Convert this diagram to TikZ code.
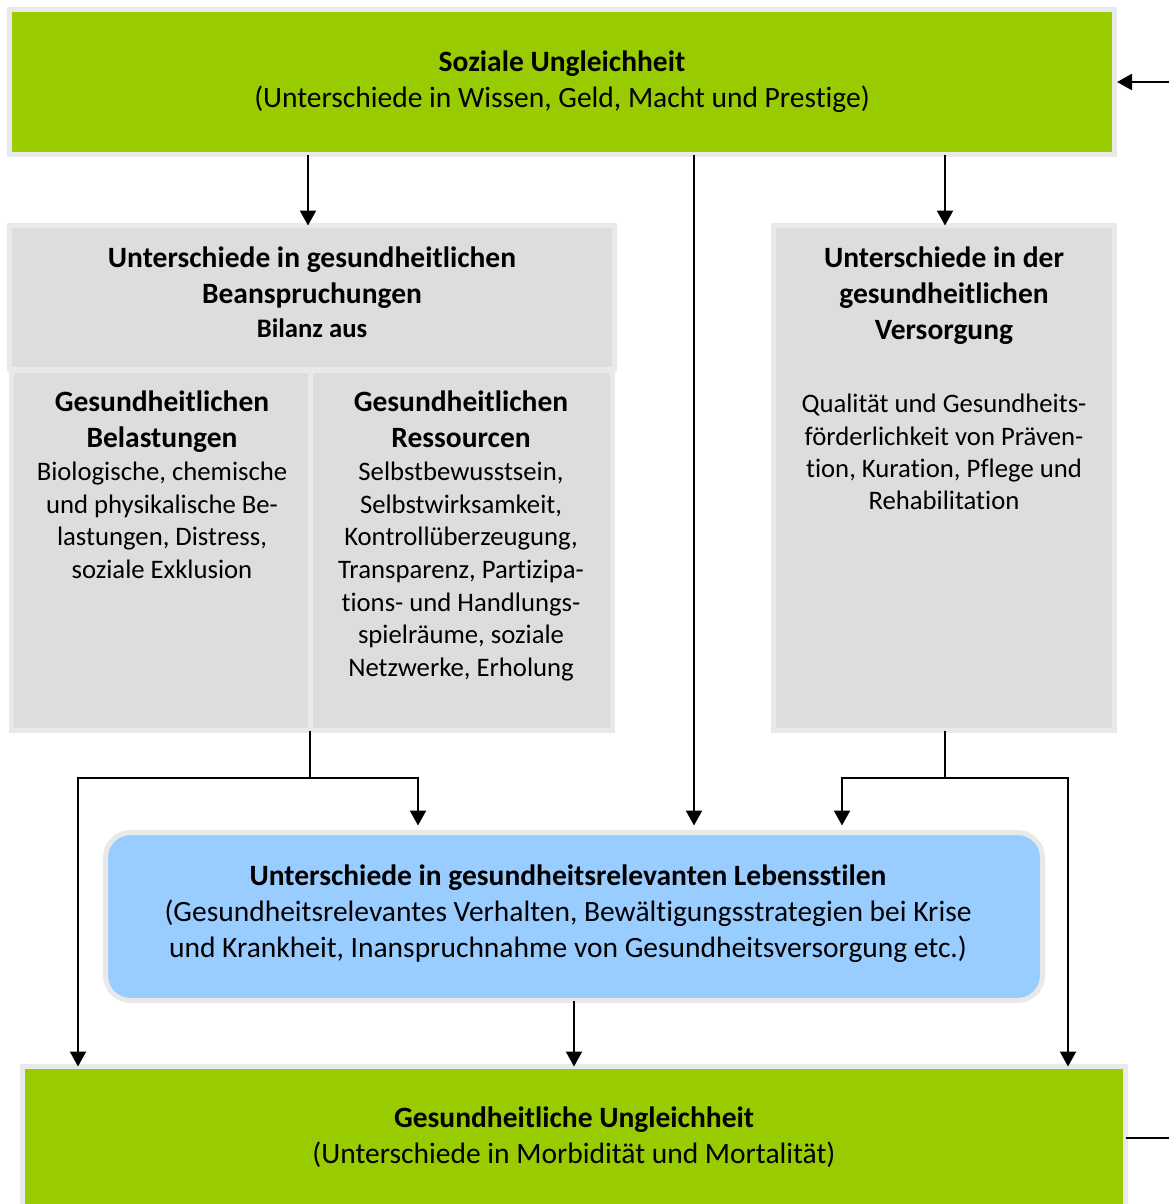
\documentclass[tikz,border=0pt]{standalone}
\usepackage{fontspec}
\setmainfont{Carlito}[Ligatures=NoCommon]
\usetikzlibrary{arrows.meta}
\definecolor{lgreen}{RGB}{153,204,0}
\definecolor{boxgray}{RGB}{221,221,221}
\definecolor{rimgray}{RGB}{233,233,233}
\definecolor{lblue}{RGB}{153,204,255}
\newcommand\fsz[2]{\fontsize{#1}{#2}\selectfont}
\begin{document}
\begin{tikzpicture}[x=1pt,y=-1pt,
  box/.style={draw=rimgray, line width=5pt, inner sep=0pt, outer sep=0pt},
  greenbox/.style={box, fill=lgreen},
  graybox/.style={box, fill=boxgray},
  bluebox/.style={box, fill=lblue, rounded corners=25pt},
  bigtxt/.style={align=center, inner sep=0pt, anchor=north, font=\fsz{29.5}{36}},
  smalltxt/.style={align=center, inner sep=0pt, anchor=north, font=\fsz{26.7}{32.6}},
  arr/.style={line width=2.2pt, line join=miter, -{Triangle[width=16pt,length=15pt]}},
  ln/.style={line width=2.2pt, line join=miter}]
\useasboundingbox (0,0) rectangle (1169,1204);

% boxes
\node[greenbox, minimum width=1105pt, minimum height=145pt] (top) at (562,82) {};
\node[graybox, minimum width=605pt, minimum height=144pt] (bean) at (312,297.5) {};
\node[graybox, minimum width=298.5pt, minimum height=360pt] (belast) at (160.75,550.5) {};
\node[graybox, minimum width=302.5pt, minimum height=360pt] (ress) at (461.25,550.5) {};
\node[graybox, minimum width=341pt, minimum height=505pt] (vers) at (944,478) {};
\node[bluebox, minimum width=937pt, minimum height=168pt] (life) at (574,916.5) {};
\node[greenbox, minimum width=1103pt, minimum height=148.5pt] (bottom) at (574,1140.75) {};

% texts
\node[bigtxt] (ttop) at (562,45.8) {\strut\textbf{Soziale Ungleichheit}\\(Unterschiede in Wissen, Geld, Macht und Prestige)};
\node[bigtxt] (tbean) at (312,241.8) {\strut\textbf{Unterschiede in gesundheitlichen}\\\textbf{Beanspruchungen}};
\node[inner sep=0pt, anchor=base, font=\bfseries\fsz{26.7}{32.6}] (tbilanz) at (312,337.5) {Bilanz aus};
\node[bigtxt] (tbelh) at (162,385.8) {\strut\textbf{Gesundheitlichen}\\\textbf{Belastungen}};
\node[smalltxt] (tbelb) at (162,457.7) {\strut Biologische, chemische\\und physikalische Be-\\lastungen, Distress,\\soziale Exklusion};
\node[bigtxt] (tressh) at (461,385.8) {\strut\textbf{Gesundheitlichen}\\\textbf{Ressourcen}};
\node[smalltxt] (tressb) at (461,457.7) {\strut Selbstbewusstsein,\\Selbstwirksamkeit,\\Kontroll\"uberzeugung,\\Transparenz, Partizipa-\\tions- und Handlungs-\\spielr\"aume, soziale\\Netzwerke, Erholung};
\node[bigtxt] (tversh) at (944,241.8) {\strut\textbf{Unterschiede in der}\\\textbf{gesundheitlichen}\\\textbf{Versorgung}};
\node[smalltxt, font=\fsz{26.7}{32.3}] (tversb) at (944,389.9) {\strut Qualit\"at und Gesundheits-\\f\"orderlichkeit von Pr\"aven-\\tion, Kuration, Pflege und\\Rehabilitation};
\node[bigtxt] (tlife) at (568,859.8) {\strut\textbf{Unterschiede in gesundheitsrelevanten Lebensstilen}\\(Gesundheitsrelevantes Verhalten, Bew\"altigungsstrategien bei Krise\\und Krankheit, Inanspruchnahme von Gesundheitsversorgung etc.)};
\node[bigtxt] (tbottom) at (574,1101.8) {\strut\textbf{Gesundheitliche Ungleichheit}\\(Unterschiede in Morbidit\"at und Mortalit\"at)};

% connector helpers
\coordinate (xa) at (308,0);
\coordinate (xb) at (694,0);
\coordinate (xc) at (945,0);
\coordinate (jl) at (310,778);
\coordinate (xe) at (418,0);
\coordinate (xf) at (78,0);
\coordinate (jr) at (945,778);
\coordinate (xg) at (842,0);
\coordinate (xh) at (1068,0);
\coordinate (xi) at (574,0);
\coordinate (inR) at (1169,82);
\coordinate (outR) at (1169,1138);

% connectors
\draw[arr] (top.south -| xa) -- (bean.north -| xa);
\draw[arr, shorten >=7pt] (top.south -| xb) -- (life.north -| xb);
\draw[arr] (top.south -| xc) -- (vers.north -| xc);
\draw[ln] (belast.south east) -- (jl);
\draw[arr, shorten >=7pt] (jl) -| (life.north -| xe);
\draw[arr] (jl) -| (bottom.north -| xf);
\draw[ln] (vers.south -| jr) -- (jr);
\draw[arr, shorten >=7pt] (jr) -| (life.north -| xg);
\draw[arr] (jr) -| (bottom.north -| xh);
\draw[arr] (life.south -| xi) -- (bottom.north -| xi);
\draw[arr, shorten >=2.5pt] (inR) -- (top.east |- inR);
\draw[ln] (bottom.east |- outR) -- (outR);
\end{tikzpicture}
\end{document}
